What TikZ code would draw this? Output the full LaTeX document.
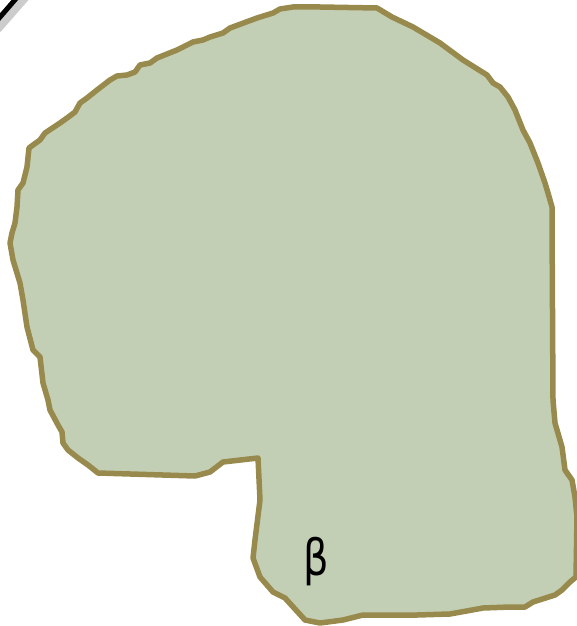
\documentclass[tikz,border=0pt]{standalone}
\usepackage{fontspec}
\newfontfamily\betafont{DejaVu Sans}
\definecolor{blobfill}{HTML}{C3CFB5}
\definecolor{blobline}{HTML}{978A4C}
\tikzset{
  blob/.style={fill=blobfill, draw=blobline, line width=5.5pt, line join=round, line cap=round},
  pen/.style={draw=black, line width=5pt},
  penshadow/.style={draw=black!20, line width=12pt},
  lbl/.style={font=\betafont\fontsize{50}{50}\selectfont, text=black, inner sep=0pt}
}
\begin{document}
\begin{tikzpicture}[x=1pt,y=-1pt]
\useasboundingbox (0,0) rectangle (577,626);
% pen stroke in the top-left corner
\draw[penshadow] (-4,28) -- (24,-4);
\draw[pen] (-6,24) -- (20,-6);
% region outline
\draw[blob]
 (280,9) -- (293,7) -- (320,7) -- (377,8) -- (392,17) -- (413,27) -- (440,43) -- (463,60)
 -- (487,75) -- (493,83) -- (500,87) -- (508,97) -- (515,110) -- (523,130) -- (530,143)
 -- (538,163) -- (545,183) -- (548,193) -- (552,207) -- (552,220) -- (553,400)
 -- (555,423) -- (562,447) -- (565,470) -- (572,480) -- (575,497) -- (577,517)
 -- (576,577) -- (570,582) -- (562,590) -- (555,595) -- (533,602) -- (525,607)
 -- (510,607) -- (483,608) -- (450,614) -- (417,615) -- (363,615) -- (343,620)
 -- (320,623) -- (305,620) -- (285,598) -- (273,592) -- (260,577) -- (253,558)
 -- (255,540) -- (260,500) -- (258,458) -- (223,462) -- (210,472) -- (195,476)
 -- (98,473) -- (88,465) -- (78,458) -- (68,450) -- (63,443) -- (62,432) -- (58,425)
 -- (50,410) -- (48,400) -- (43,383) -- (40,357) -- (33,350) -- (27,327) -- (23,300)
 -- (20,283) -- (13,260) -- (10,243) -- (12,233) -- (15,223) -- (17,207) -- (18,190)
 -- (23,183) -- (27,167) -- (29,148) -- (33,145) -- (40,140) -- (45,133) -- (60,123)
 -- (67,118) -- (75,112) -- (80,103) -- (87,98) -- (97,90) -- (110,80) -- (117,76)
 -- (127,75) -- (135,72) -- (140,65) -- (150,63) -- (157,58) -- (177,50) -- (193,42)
 -- (203,40) -- (210,37) -- (223,33) -- (230,28) -- (257,18) -- (273,13) -- cycle;
\node[lbl, xscale=0.8] (beta) at (316,562) {β};
\end{tikzpicture}
\end{document}
